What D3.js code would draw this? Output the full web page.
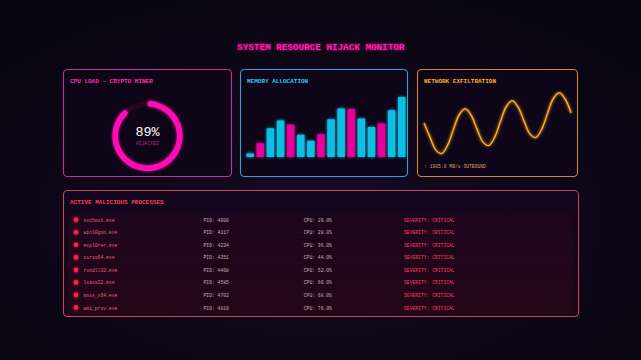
<html>
<head>
<script src="https://d3js.org/d3.v7.min.js"></script>
<style>
  body { margin: 0; background: #090612; }
  text { font-family: "Courier New", "Liberation Mono", monospace; }
</style>
</head>
<body>
<svg id="dash" width="641" height="360"></svg>
<script>
// ---- data ----
const cpuLoad = 89;
const memBlocks = ["M01","M02","M03","M04","M05","M06","M07","M08","M09","M10","M11","M12","M13","M14","M15","M16"];
const memValues = [6, 23, 48, 61, 54, 37, 27, 38, 63, 81, 80, 64, 50, 56, 78, 100];
const memHijacked = [0, 1, 0, 0, 1, 0, 0, 1, 0, 0, 1, 0, 0, 1, 0, 0];
const netValues = [37.0, 23.1, 10.1, 6.4, 14.6, 30.5, 45.5, 51.2, 45.0, 31.1, 18.1, 14.4, 22.6,
                   38.5, 53.5, 59.2, 53.0, 39.1, 26.1, 22.4, 30.6, 46.5, 61.5, 67.2, 61.0, 47.1];
const netRate = "1905.0";
const procNames = ["svchost.exe", "winl0gon.exe", "expl0rer.exe", "csrss64.exe", "rundll32.exe", "lsass32.exe", "msss_x64.exe", "wmi_prov.exe"];
const procPids = [4000, 4117, 4234, 4351, 4468, 4585, 4702, 4819];
const procCpu = [20, 28, 36, 44, 52, 60, 68, 76];
const procSeverity = ["CRITICAL", "CRITICAL", "CRITICAL", "CRITICAL", "CRITICAL", "CRITICAL", "CRITICAL", "CRITICAL"];

const svg = d3.select("#dash");
const defs = svg.append("defs");

const bg = defs.append("radialGradient").attr("id", "bg").attr("cx", "50%").attr("cy", "60%").attr("r", "65%");
bg.append("stop").attr("offset", "0%").attr("stop-color", "#170a25");
bg.append("stop").attr("offset", "100%").attr("stop-color", "#07050f");

const pg = defs.append("linearGradient").attr("id", "procbg").attr("x1", 0).attr("y1", 0).attr("x2", 0).attr("y2", 1);
pg.append("stop").attr("offset", "0%").attr("stop-color", "#12061d");
pg.append("stop").attr("offset", "100%").attr("stop-color", "#1b0616");

const glow = defs.append("filter").attr("id", "glow").attr("x", "-50%").attr("y", "-50%").attr("width", "200%").attr("height", "200%");
glow.append("feGaussianBlur").attr("stdDeviation", 1.6).attr("result", "b");
const gm = glow.append("feMerge");
gm.append("feMergeNode").attr("in", "b");
gm.append("feMergeNode").attr("in", "SourceGraphic");

svg.append("rect").attr("width", 641).attr("height", 360).attr("fill", "url(#bg)");

svg.append("text").attr("x", 321).attr("y", 50).attr("text-anchor", "middle")
  .attr("font-size", 9.3).attr("font-weight", "bold").attr("fill", "#ff1aa6")
  .attr("filter", "url(#glow)")
  .text("SYSTEM RESOURCE HIJACK MONITOR");

function panel(x, y, w, h, stroke, fill, title, titleColor) {
  const g = svg.append("g").attr("transform", "translate(" + x + "," + y + ")");
  g.append("rect").attr("x", 0.5).attr("y", 0.5).attr("width", w).attr("height", h).attr("rx", 4)
    .attr("fill", fill).attr("stroke", stroke).attr("stroke-width", 1.1);
  g.append("text").attr("x", 7).attr("y", 13.5).attr("font-size", 6).attr("font-weight", "bold")
    .attr("fill", titleColor).text(title);
  return g;
}

// ---- CPU gauge ----
const p1 = panel(63, 69, 168, 107, "#c0339a", "#0e0519", "CPU LOAD - CRYPTO MINER", "#ff2fa8");
const arc = d3.arc().innerRadius(29.5).outerRadius(35).cornerRadius(2.7);
const gauge = p1.append("g").attr("transform", "translate(84.5,67)");
gauge.append("path").attr("d", arc({startAngle: 0, endAngle: 2 * Math.PI})).attr("fill", "#2a0828").attr("opacity", 0.7);
const angle = d3.scaleLinear().domain([0, 100]).range([0, 2 * Math.PI]);
gauge.append("path").attr("d", arc({startAngle: 0, endAngle: angle(cpuLoad)}))
  .attr("fill", "#ff10b4").attr("filter", "url(#glow)");
gauge.append("text").attr("y", -0.5).attr("text-anchor", "middle").attr("font-size", 13.4)
  .attr("font-family", "DejaVu Sans Mono, monospace").attr("fill", "#ffffff").text(cpuLoad + "%");
gauge.append("text").attr("y", 9).attr("text-anchor", "middle").attr("font-size", 4.8)
  .attr("fill", "#b02a80").text("HIJACKED");

// ---- memory bars ----
const p2 = panel(240, 69, 167, 107, "#2ea3d0", "#0e0519", "MEMORY ALLOCATION", "#2fc8ee");
const xb = d3.scaleBand().domain(memBlocks).range([6, 166]).paddingInner(0.26).paddingOuter(0.05);
const yb = d3.scaleLinear().domain([0, 100]).range([88, 28]);
p2.selectAll("rect.bar").data(memValues).join("rect").attr("class", "bar")
  .attr("x", (d, i) => xb(memBlocks[i]))
  .attr("y", d => yb(d))
  .attr("width", xb.bandwidth())
  .attr("height", d => yb(0) - yb(d))
  .attr("rx", 0.8)
  .attr("fill", (d, i) => memHijacked[i] ? "#e6009c" : "#0cbfe3")
  .attr("filter", "url(#glow)");

// ---- network wave ----
const p3 = panel(417, 69, 160, 107, "#c98a35", "#0e0519", "NETWORK EXFILTRATION", "#ffad2a");
const xw = d3.scaleLinear().domain([0, netValues.length - 1]).range([7, 154]);
const yw = d3.scaleLinear().domain([0, 70]).range([91, 21]);
p3.append("path").datum(netValues)
  .attr("d", d3.line().x((d, i) => xw(i)).y(d => yw(d)).curve(d3.curveCatmullRom))
  .attr("fill", "none").attr("stroke", "#ffae1a").attr("stroke-width", 1.4)
  .attr("filter", "url(#glow)");
p3.append("text").attr("x", 7).attr("y", 98.5).attr("font-size", 4.7).attr("fill", "#d9a45a")
  .text("\u2191 " + netRate + " MB/s OUTBOUND");

// ---- process list ----
const p4 = panel(63, 190, 515, 126, "#c9445e", "url(#procbg)", "ACTIVE MALICIOUS PROCESSES", "#ff3a5e");
const yr = d3.scaleBand().domain(procNames).range([23.5, 124.7]).padding(0.08);
const rows = p4.selectAll("g.row").data(procNames).join("g").attr("class", "row")
  .attr("transform", d => "translate(0," + yr(d) + ")");
rows.append("rect").attr("x", 5).attr("width", 505).attr("height", yr.bandwidth())
  .attr("fill", "#ff1e50").attr("opacity", 0.04);
rows.append("line").attr("x1", 5).attr("x2", 510).attr("y1", yr.bandwidth()).attr("y2", yr.bandwidth())
  .attr("stroke", "#ff2a5a").attr("stroke-opacity", 0.1).attr("stroke-width", 0.6);
const mid = yr.bandwidth() / 2;
rows.append("circle").attr("cx", 13).attr("cy", mid - 0.5).attr("r", 2.3)
  .attr("fill", "#ff2248").attr("filter", "url(#glow)");
rows.append("text").attr("x", 20.5).attr("y", mid + 1.6).attr("font-size", 4.7).attr("fill", "#f0607e")
  .text(d => d);
rows.append("text").attr("x", 140.5).attr("y", mid + 1.6).attr("font-size", 4.7).attr("fill", "#cfb0b8")
  .text((d, i) => "PID: " + procPids[i]);
rows.append("text").attr("x", 240.8).attr("y", mid + 1.6).attr("font-size", 4.7).attr("fill", "#cfb0b8")
  .text((d, i) => "CPU: " + procCpu[i].toFixed(1) + "%");
rows.append("text").attr("x", 341).attr("y", mid + 1.6).attr("font-size", 4.7).attr("fill", "#ff3a66")
  .text((d, i) => "SEVERITY: " + procSeverity[i]);
</script>
</body>
</html>
